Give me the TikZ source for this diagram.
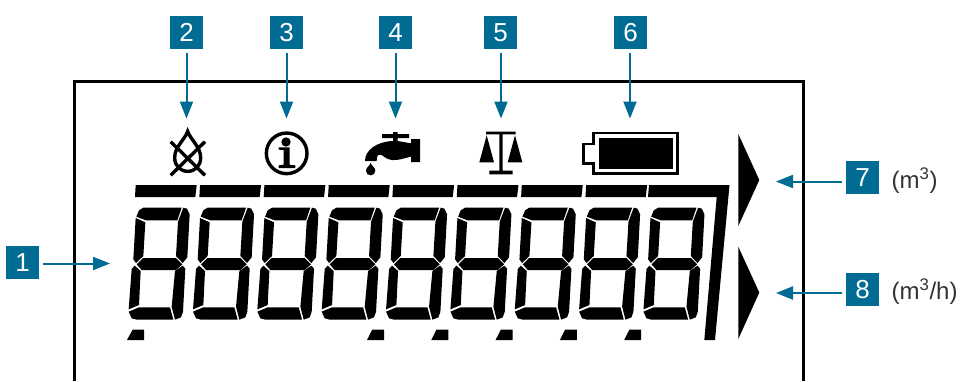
\documentclass[tikz,border=0pt]{standalone}
\usepackage{fontspec}
\setmainfont{Liberation Sans}
\usetikzlibrary{arrows.meta}
\definecolor{callblue}{HTML}{006C94}
\definecolor{unitgray}{HTML}{333333}
\tikzset{
  numbox/.style={fill=callblue,text=white,minimum size=33pt,inner sep=0pt,font=\fontsize{26}{26}\selectfont},
  callout/.style={draw=callblue,line width=2pt,shorten <=4pt,-{Triangle[length=17pt,width=13pt,fill=callblue]}},
  unitlabel/.style={text=unitgray,anchor=west,inner sep=0pt,font=\fontsize{24}{24}\selectfont},
  seg/.style={fill=black,draw=none},
  icon/.style={draw=black,line width=3.4pt,fill=none}
}
\begin{document}
\begin{tikzpicture}[x=1pt,y=-1pt]
\useasboundingbox (0,0) rectangle (961,381);
\fill[white] (0,0) rectangle (961,381);
% frame
\draw[line width=3.4pt,black] (74.5,381) -- (74.5,81.7) -- (803.3,81.7) -- (803.3,381);
% digits
\foreach \k in {0,...,8}{
\begin{scope}[shift={(120+64.35*\k,170)},scale=1/3]
  \fill[seg] (49,140) -- (57,121) -- (70,113) -- (185,113) -- (172,151) -- (78,151) -- cycle;
  \fill[seg] (47,144) -- (76,157) -- (70,258) -- (48,279) -- (40,268) -- cycle;
  \fill[seg] (190,113) -- (201,116) -- (209,133) -- (202,262) -- (188,279) -- (168,258) -- (174,155) -- cycle;
  \fill[seg] (50,283) -- (69,264) -- (168,264) -- (187,283) -- (168,300) -- (65,300) -- cycle;
  \fill[seg] (44,287) -- (62,303) -- (57,405) -- (26,418) -- (35,297) -- cycle;
  \fill[seg] (188,287) -- (196,296) -- (189,425) -- (183,442) -- (165,449) -- (155,410) -- (165,303) -- cycle;
  \fill[seg] (26,425) -- (57,412) -- (150,412) -- (160,449) -- (50,449) -- (35,445) -- cycle;
\end{scope}
}
% top bars
\foreach \k in {0,...,7}{
  \fill[seg,shift={(64.35*\k,0)}] (135.7,185) -- (196.7,185) -- (195.3,197) -- (135,197) -- cycle;
}
\fill[seg] (649,185) -- (729.5,185) -- (715,340) -- (704.3,340) -- (716.7,197) -- (648,197) -- cycle;
% decimal marks
\fill[seg] (127,340) -- (132.7,329.5) -- (144,329.5) -- (144,340) -- cycle;
\foreach \k in {0,...,4}{
  \fill[seg,shift={(64.3*\k,0)}] (367,340) -- (372.3,329.5) -- (384,329.5) -- (384,340) -- cycle;
}
% big triangles
\fill[seg] (738.3,134) -- (759.3,180) -- (738.3,226) -- cycle;
\fill[seg] (738.3,246.7) -- (759.3,292.5) -- (738.3,339) -- cycle;
% drop icon
\begin{scope}[shift={(150,10)},scale=1/3]
  \draw[icon] (113,364) .. controls (120,387) and (152,410) .. (152,443) .. controls (152,468) and (135,484) .. (113,484) .. controls (91,484) and (74,468) .. (74,443) .. controls (74,410) and (106,387) .. (113,364) -- cycle;
  \draw[icon] (62,395) -- (165,496) (165,395) -- (62,496);
\end{scope}
% info icon
\begin{scope}[shift={(150,10)},scale=1/3]
  \draw[icon] (410,430) circle (61);
  \fill[seg] (408,396) circle (14);
  \fill[seg] (386,412) -- (419,412) -- (419,464) -- (436,466) -- (436,474) -- (386,474) -- (386,466) -- (401,464) -- (401,420) -- (386,419) -- cycle;
  % tap
  \fill[seg] (696,372) -- (729,372) -- (729,366) -- (743,366) -- (743,372) -- (777,372) -- (777,384) -- (743,384) -- (743,393) -- (760,396) -- (783,400) -- (783,387) -- (810,387) -- (810,456) -- (783,456) -- (783,440) .. controls (760,445) and (745,452) .. (725,450) .. controls (705,448) and (700,434) .. (690,434) .. controls (680,434) and (680,445) .. (680,453) -- (645,453) .. controls (645,420) and (680,395) .. (729,393) -- (729,384) -- (696,384) -- cycle;
  \fill[seg] (662,458) .. controls (664,468) and (676,472) .. (676,482) .. controls (676,490) and (670,496) .. (662,496) .. controls (654,496) and (648,490) .. (648,482) .. controls (648,472) and (660,468) .. (662,458) -- cycle;
\end{scope}
% scale icon and battery
\begin{scope}[shift={(470,10)},scale=1/3]
  \fill[seg] (48,365) -- (137,365) -- (137,373) -- (98,373) -- (98,482) -- (128,482) -- (128,493) -- (58,493) -- (58,482) -- (88,482) -- (88,373) -- (48,373) -- cycle;
  \fill[seg] (50,376) -- (72,457) -- (28,457) -- cycle;
  \fill[seg] (135,376) -- (157,457) -- (113,457) -- cycle;
  \draw[icon,line width=2.6pt] (371,369) -- (623,369) -- (623,490) -- (371,490) -- (371,460) -- (340,460) -- (340,402) -- (371,402) -- cycle;
  \fill[seg] (387,384) rectangle (610,477);
\end{scope}
% numbered boxes
\node[numbox] (b1) at (22.5,262.5) {1};
\node[numbox] (b2) at (186.5,32.5) {2};
\node[numbox] (b3) at (286.5,32.5) {3};
\node[numbox] (b4) at (395.5,32.5) {4};
\node[numbox] (b5) at (500.5,32.5) {5};
\node[numbox] (b6) at (630.5,32.5) {6};
\node[numbox] (b7) at (862.5,177.5) {7};
\node[numbox] (b8) at (862.5,289.5) {8};
% arrow targets
\coordinate (t1) at (110,263.5);
\coordinate (t2) at (186.5,118.5);
\coordinate (t3) at (286.5,118.5);
\coordinate (t4) at (395.5,118.5);
\coordinate (t5) at (501,118.5);
\coordinate (t6) at (630,118.5);
\coordinate (t7) at (776,181.5);
\coordinate (t8) at (776,293);
\draw[callout] (b1.east |- t1) -- (t1);
\draw[callout] (b2) -- (t2);
\draw[callout] (b3) -- (t3);
\draw[callout] (b4) -- (t4);
\draw[callout] (t5 |- b5.south) -- (t5);
\draw[callout] (t6 |- b6.south) -- (t6);
\draw[callout] (b7.west |- t7) -- (t7);
\draw[callout] (b8.west |- t8) -- (t8);
% units
\node[unitlabel] (u7) at (891.5,181) {(m\textsuperscript{3})};
\node[unitlabel] (u8) at (891.5,292) {(m\textsuperscript{3}/h)};
\end{tikzpicture}
\end{document}
